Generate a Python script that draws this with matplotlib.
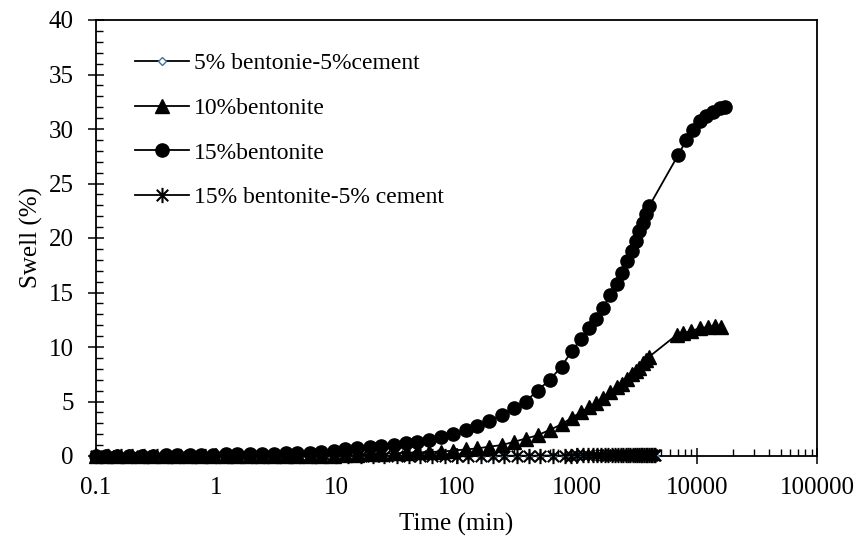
import numpy as np
import matplotlib
matplotlib.use("Agg")
import matplotlib.pyplot as plt
from matplotlib.path import Path
from matplotlib.ticker import FixedLocator, LogLocator, FuncFormatter, MultipleLocator

plt.rcParams['font.family'] = ['Liberation Serif', 'DejaVu Serif']

# 时间 (min) 和膨胀率 (%)
t_early = [0.1, 0.12, 0.15, 0.19, 0.24, 0.3, 0.38, 0.47, 0.6, 0.75,
           0.95, 1.2, 1.5, 1.9, 2.4, 3.0, 3.8, 4.7, 6.0, 7.5,
           9.5, 11.9, 15, 18.9, 23.5, 30, 38, 47, 59, 75,
           94, 119, 149, 186, 237, 301, 376, 473, 598, 748]

t_bent = t_early + [906, 1080, 1260, 1450, 1662, 1888, 2148, 2362, 2600, 2862,
                    3107, 3311, 3575, 3811, 4005]
t15_late = [6980, 8200, 9310, 10590, 12030, 13670, 15500, 17000]
t10_late = [6780, 7700, 9020, 10590, 12400, 14100, 16040]

t_cement = [0.1, 0.125, 0.16, 0.2, 0.25, 0.32, 0.4, 0.5, 0.63, 0.8,
            1.0, 1.25, 1.6, 2.0, 2.5, 3.2, 4.0, 5.0, 6.3, 8.0,
            10, 12.5, 16, 20, 25, 32, 40, 50, 63, 80,
            100, 125, 160, 200, 250, 320, 400, 500, 630, 800,
            900, 1000, 1120, 1240, 1360, 1480, 1600, 1720, 1840, 1960,
            2080, 2200, 2320, 2440, 2560, 2680, 2800, 2920, 3040, 3160,
            3280, 3400, 3520, 3640, 3760, 3880, 4000, 4120, 4240, 4360, 4480]

swell_15 = [0.0, 0.0, 0.0, 0.0, 0.02, 0.04, 0.05, 0.07, 0.09, 0.1,
            0.12, 0.14, 0.16, 0.18, 0.2, 0.22, 0.25, 0.28, 0.32, 0.37,
            0.45, 0.6, 0.72, 0.8, 0.9, 1.0, 1.15, 1.3, 1.5, 1.75,
            2.0, 2.4, 2.75, 3.2, 3.8, 4.4, 5.0, 6.0, 7.0, 8.2,
            9.6, 10.7, 11.7, 12.6, 13.55, 14.8, 15.8, 16.8, 17.9, 18.8,
            19.75, 20.6, 21.4, 22.2, 22.9,
            27.6, 29.0, 29.9, 30.7, 31.2, 31.6, 31.9, 32.0]

swell_10 = [0.0, 0.0, 0.0, 0.0, 0.0, 0.0, 0.0, 0.0, 0.0, 0.0,
            0.0, 0.0, 0.0, 0.0, 0.0, 0.01, 0.01, 0.02, 0.02, 0.03,
            0.03, 0.05, 0.1, 0.15, 0.2, 0.25, 0.3, 0.33, 0.37, 0.4,
            0.5, 0.6, 0.7, 0.85, 1.0, 1.3, 1.6, 1.9, 2.4, 2.9,
            3.5, 4.0, 4.45, 4.85, 5.35, 5.85, 6.3, 6.65, 7.1, 7.5,
            7.8, 8.1, 8.5, 8.85, 9.1,
            11.1, 11.25, 11.5, 11.7, 11.85, 11.9, 11.85]

swell_5c = [0.0, 0.0, 0.0, 0.0, 0.0, 0.0, 0.0, 0.0, 0.0, 0.0,
            0.0, 0.0, 0.0, 0.0, 0.0, 0.0, 0.0, 0.0, 0.0, 0.0,
            0.0, 0.0, 0.0, 0.0, 0.0, 0.0, 0.0, 0.0, 0.0, 0.0,
            0.0, 0.0, 0.0, 0.0, 0.0, 0.0, 0.0, 0.0, 0.0, 0.0,
            0.0, 0.0, 0.0, 0.0, 0.0, 0.0, 0.0, 0.0, 0.0, 0.0,
            0.0, 0.0, 0.0, 0.0, 0.0, 0.0, 0.0, 0.0, 0.0, 0.0,
            0.0, 0.0, 0.0, 0.0, 0.0, 0.0, 0.0, 0.0, 0.0, 0.0, 0.0]

swell_15c = [0.0, 0.0, 0.0, 0.0, 0.0, 0.0, 0.0, 0.0, 0.0, 0.0,
             0.0, 0.0, 0.0, 0.0, 0.0, 0.0, 0.0, 0.0, 0.0, 0.0,
             0.0, 0.0, 0.0, 0.0, 0.0, 0.01, 0.01, 0.01, 0.01, 0.02,
             0.02, 0.02, 0.02, 0.03, 0.03, 0.03, 0.03, 0.04, 0.04, 0.04,
             0.04, 0.05, 0.05, 0.05, 0.05, 0.05, 0.05, 0.05, 0.05, 0.05,
             0.05, 0.05, 0.05, 0.05, 0.05, 0.05, 0.05, 0.05, 0.05, 0.05,
             0.05, 0.05, 0.05, 0.05, 0.05, 0.05, 0.05, 0.05, 0.05, 0.05, 0.05]

labels = ['5% bentonie-5%cement', '10%bentonite', '15%bentonite',
          '15% bentonite-5% cement']
x_ticks = [0.1, 1, 10, 100, 1000, 10000, 100000]

# 米字形标记: 竖线 + X
star = Path([(0, -1), (0, 1), (-0.75, -0.75), (0.75, 0.75), (-0.75, 0.75), (0.75, -0.75)],
            [Path.MOVETO, Path.LINETO, Path.MOVETO, Path.LINETO, Path.MOVETO, Path.LINETO])

fig = plt.figure(figsize=(8.61, 5.39), dpi=100)
ax = fig.add_axes([96/861, 1-456/539, (817-96)/861, (456-20)/539])

lw = 1.3
ax.plot(t_cement, swell_5c, color='black', lw=lw, marker='D', ms=4,
        mfc='white', mec='#41719c', mew=1.0, label=labels[0], zorder=3, clip_on=False)
ax.plot(t_bent + t10_late, swell_10, color='black', lw=lw, marker='^', ms=9.5,
        mfc='black', mec='black', label=labels[1], zorder=4, clip_on=False)
ax.plot(t_bent + t15_late, swell_15, color='black', lw=lw, marker='o', ms=9.5,
        mfc='black', mec='black', label=labels[2], zorder=5, clip_on=False)
ax.plot(t_cement, swell_15c, color='black', lw=lw, marker=star, ms=11,
        mew=1.5, mec='black', label=labels[3], zorder=6, clip_on=False)

ax.set_xscale('log')
ax.set_xlim(0.1, 100000)
ax.set_ylim(0, 40)
ax.xaxis.set_major_locator(FixedLocator(x_ticks))
ax.xaxis.set_major_formatter(FuncFormatter(lambda v, p: '%g' % v if v < 1e5 else '100000'))
ax.xaxis.set_minor_locator(LogLocator(base=10, subs=np.arange(2, 10)))
ax.yaxis.set_major_locator(MultipleLocator(5))
ax.yaxis.set_minor_locator(MultipleLocator(1))

for s in ax.spines.values():
    s.set_linewidth(1.3)
    s.set_color('black')

ax.tick_params(which='major', direction='inout', length=12, width=1.1,
               labelsize=18)
ax.tick_params(axis='x', which='major', pad=9)
ax.tick_params(axis='y', which='major', pad=10)
ax.tick_params(which='minor', direction='in', length=5, width=1.0)
ax.tick_params(axis='both', which='both', top=False, right=False)

ax.set_xlabel('Time (min)', fontsize=18, labelpad=10)
ax.set_ylabel('Swell (%)', fontsize=18, labelpad=4)

ax.legend(loc='upper left', bbox_to_anchor=(0.054, 0.925), frameon=False,
          fontsize=17, handlelength=2.3, handletextpad=0.2, labelspacing=0.98,
          borderpad=0, borderaxespad=0, markerscale=1.0)

fig.savefig('out.png', dpi=100)
